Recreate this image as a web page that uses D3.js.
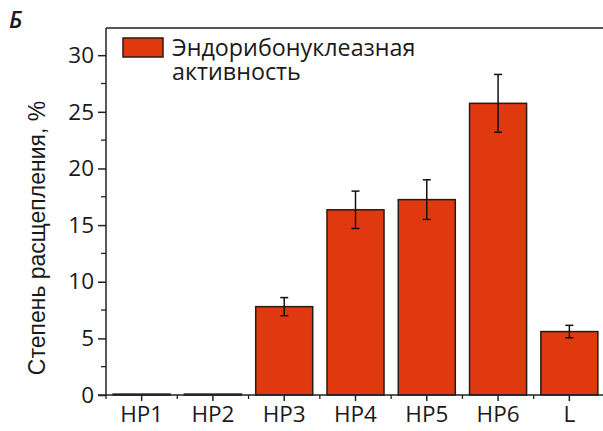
<!DOCTYPE html>
<html>
<head>
<meta charset="utf-8">
<script src="https://cdn.jsdelivr.net/npm/d3@7"></script>
<style>
  body { margin: 0; background: #fff; }
  svg { display: block; }
</style>
</head>
<body>
<svg id="chart" width="603" height="431"></svg>
<script>
var categories = ["HP1", "HP2", "HP3", "HP4", "HP5", "HP6", "L"];
var values = [0.08, 0.08, 7.8, 16.35, 17.25, 25.75, 5.6];
var errors = [0, 0, 0.8, 1.65, 1.75, 2.55, 0.55];
var majorTicks = [0, 5, 10, 15, 20, 25, 30];
var minorTicks = [2.5, 7.5, 12.5, 17.5, 22.5, 27.5];
var legendLines = ["Эндорибонуклеазная", "активность"];

var svg = d3.select("#chart");
var mLeft = 106, mRight = 605, mTop = 28, mBottom = 395;

var x = d3.scaleBand().domain(categories).range([mLeft, mRight]).paddingInner(0.2).paddingOuter(0.1);
var y = d3.scaleLinear().domain([0, 32.4]).range([mBottom, mTop]);

var fill = "#e1390f", dark = "#2a1a14", axisCol = "#222";
var tickFont = "'Open Sans', sans-serif";

// bars
svg.selectAll("rect.bar")
  .data(values)
  .enter().append("rect")
  .attr("class", "bar")
  .attr("x", function(d, i) { return x(categories[i]); })
  .attr("y", function(d) { return y(d); })
  .attr("width", x.bandwidth())
  .attr("height", function(d) { return y(0) - y(d); })
  .attr("fill", fill)
  .attr("stroke", dark)
  .attr("stroke-width", 1.5);

// error bars
var eg = svg.append("g").attr("stroke", "#111").attr("stroke-width", 1.5);
values.forEach(function(v, i) {
  if (!errors[i]) return;
  var cx = x(categories[i]) + x.bandwidth() / 2;
  eg.append("line").attr("x1", cx).attr("x2", cx).attr("y1", y(v + errors[i])).attr("y2", y(v - errors[i]));
  eg.append("line").attr("x1", cx - 4).attr("x2", cx + 4).attr("y1", y(v + errors[i])).attr("y2", y(v + errors[i]));
  eg.append("line").attr("x1", cx - 4).attr("x2", cx + 4).attr("y1", y(v - errors[i])).attr("y2", y(v - errors[i]));
});

// y axis
var yAxis = svg.append("g").attr("transform", "translate(" + mLeft + ",0)")
  .call(d3.axisLeft(y).tickValues(majorTicks).tickSize(8).tickPadding(4));
yAxis.append("g").selectAll("line").data(minorTicks).enter().append("line")
  .attr("x1", -5).attr("x2", 0).attr("y1", function(d) { return y(d); }).attr("y2", function(d) { return y(d); })
  .attr("stroke", axisCol).attr("stroke-width", 1.3);
yAxis.select(".domain").attr("d", "M0," + (mBottom + 1) + "V" + mTop);

// x axis
var xAxis = svg.append("g").attr("transform", "translate(0," + mBottom + ")")
  .call(d3.axisBottom(x).tickSize(6).tickPadding(5));
var bounds = categories.map(function(c) { return x(c) - x.step() * x.paddingInner() / 2; });
xAxis.append("g").selectAll("line").data(bounds).enter().append("line")
  .attr("x1", function(d) { return d; }).attr("x2", function(d) { return d; })
  .attr("y1", 0).attr("y2", 4)
  .attr("stroke", axisCol).attr("stroke-width", 1.3);
xAxis.select(".domain").attr("d", "M" + (mLeft - 8) + ",0H" + mRight);

svg.selectAll(".tick line").attr("stroke", axisCol).attr("stroke-width", 1.5);
svg.selectAll(".domain").attr("stroke", axisCol).attr("stroke-width", 1.5);
svg.selectAll(".tick text").attr("font-family", tickFont).attr("font-size", 22.5).attr("fill", "#1a1a1a");

// top frame line
svg.append("line").attr("x1", mLeft).attr("x2", mRight).attr("y1", mTop).attr("y2", mTop)
  .attr("stroke", axisCol).attr("stroke-width", 1.5);

// legend
svg.append("rect").attr("x", 123).attr("y", 38).attr("width", 40).attr("height", 19)
  .attr("fill", fill).attr("stroke", dark).attr("stroke-width", 1.5);
svg.append("g").selectAll("text").data(legendLines).enter().append("text")
  .attr("x", 172).attr("y", function(d, i) { return 56 + i * 24; })
  .attr("font-family", tickFont).attr("font-size", 23.3).attr("fill", "#1a1a1a")
  .text(function(d) { return d; });

// y title
svg.append("text")
  .attr("transform", "translate(45," + 238 + ") rotate(-90)")
  .attr("text-anchor", "middle")
  .attr("font-family", "'Liberation Sans', Arial, sans-serif")
  .attr("font-size", 23).attr("fill", "#1a1a1a")
  .text("Степень расщепления, %");

// panel letter
svg.append("text").attr("x", 9).attr("y", 28)
  .attr("font-family", "'Open Sans', sans-serif").attr("font-style", "italic")
  .attr("font-weight", 600)
  .attr("font-size", 23).attr("fill", "#1a1a1a")
  .text("Б");
</script>
</body>
</html>
